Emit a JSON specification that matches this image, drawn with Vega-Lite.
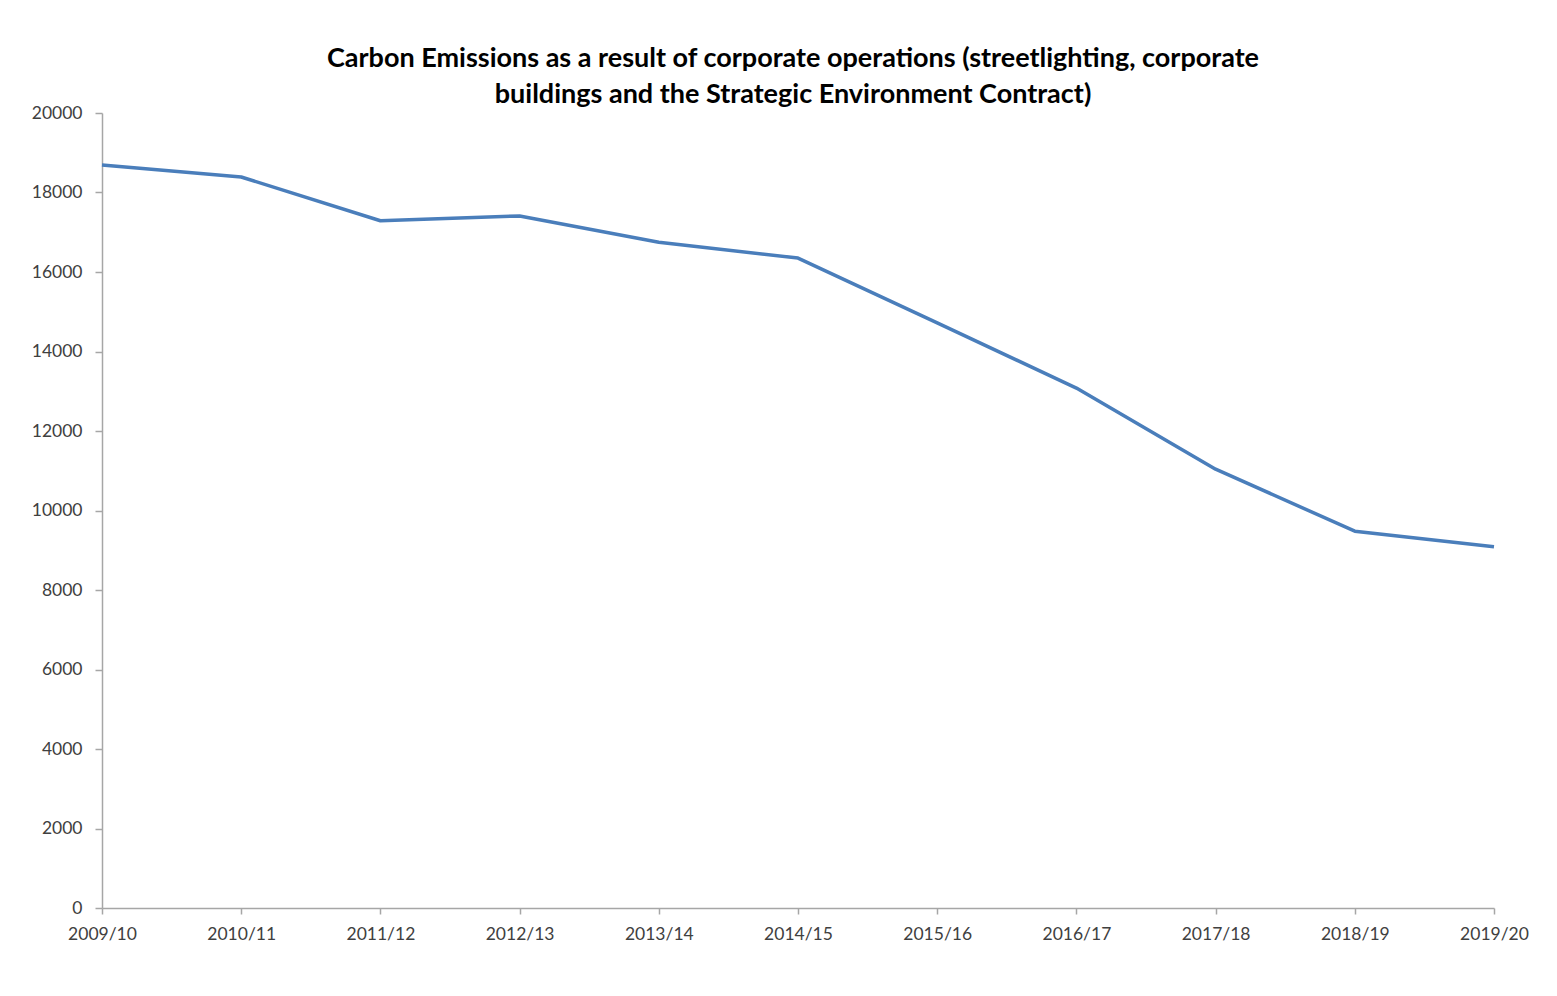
{
  "$schema": "https://vega.github.io/schema/vega-lite/v6.json",
  "autosize": "none",
  "padding": {"left": 102, "top": 113, "right": 63, "bottom": 88},
  "width": 1392,
  "height": 795,
  "background": "white",
  "title": {
    "text": ["Carbon Emissions as a result of corporate operations (streetlighting, corporate", "buildings and the Strategic Environment Contract)"],
    "font": "Lato",
    "fontSize": 27,
    "fontWeight": "bold",
    "color": "#000000",
    "anchor": "middle",
    "offset": -5,
    "lineHeight": 36,
    "dx": -5
  },
  "data": {
    "values": [
      {"year": "2009/10", "emissions": 18690},
      {"year": "2010/11", "emissions": 18390},
      {"year": "2011/12", "emissions": 17290},
      {"year": "2012/13", "emissions": 17410},
      {"year": "2013/14", "emissions": 16750},
      {"year": "2014/15", "emissions": 16350},
      {"year": "2015/16", "emissions": 14720},
      {"year": "2016/17", "emissions": 13080},
      {"year": "2017/18", "emissions": 11040},
      {"year": "2018/19", "emissions": 9480},
      {"year": "2019/20", "emissions": 9090}
    ]
  },
  "mark": {"type": "line", "color": "#4a7ebb", "strokeWidth": 3.5, "strokeJoin": "round"},
  "encoding": {
    "x": {
      "field": "year",
      "type": "ordinal",
      "scale": {"type": "point", "padding": 0},
      "axis": {
        "title": null,
        "labelAngle": 0,
        "labelFont": "Lato",
        "labelFontSize": 17.5,
        "labelColor": "#404040",
        "labelPadding": 11,
        "domainColor": "#a6a6a6",
        "domainWidth": 1.5,
        "tickColor": "#a6a6a6",
        "tickSize": 6,
        "tickWidth": 1.5,
        "grid": false
      }
    },
    "y": {
      "field": "emissions",
      "type": "quantitative",
      "scale": {"domain": [0, 20000], "nice": false},
      "axis": {
        "title": null,
        "values": [0, 2000, 4000, 6000, 8000, 10000, 12000, 14000, 16000, 18000, 20000],
        "format": "d",
        "labelFont": "Lato",
        "labelFontSize": 17.5,
        "labelColor": "#404040",
        "labelPadding": 13,
        "domainColor": "#a6a6a6",
        "domainWidth": 1.5,
        "tickColor": "#a6a6a6",
        "tickSize": 7,
        "tickWidth": 1.5,
        "grid": false
      }
    }
  },
  "config": {"view": {"stroke": null}}
}
